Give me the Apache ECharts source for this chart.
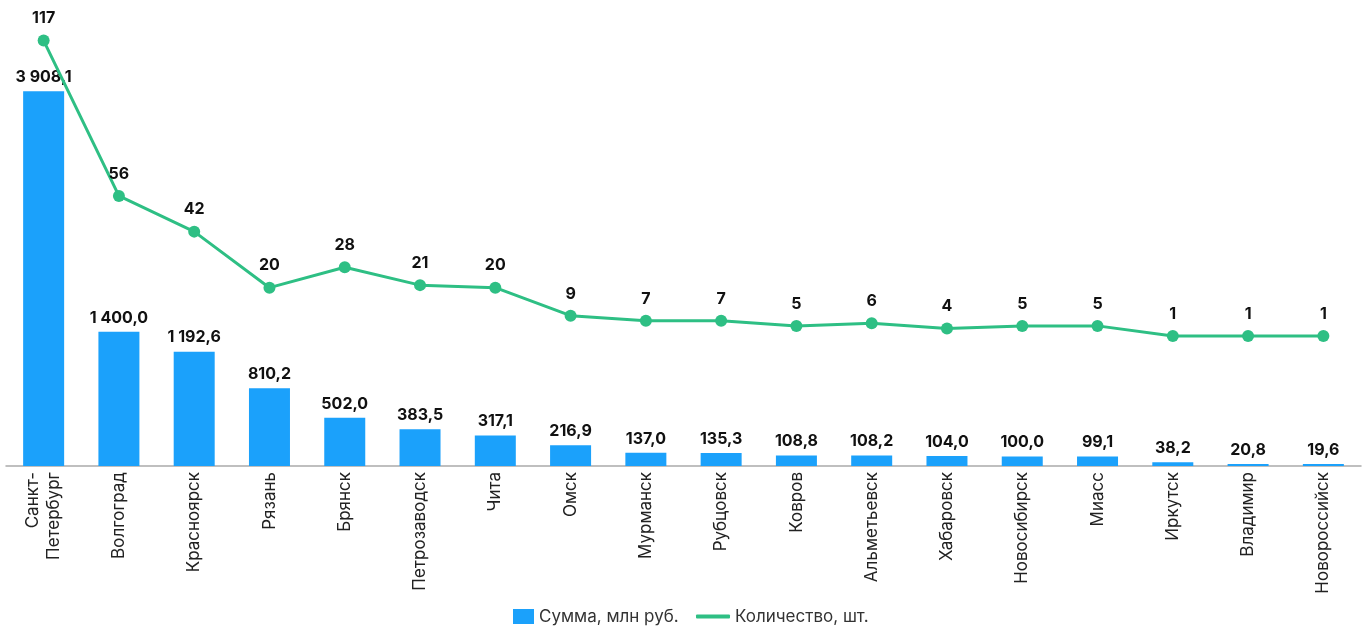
<!DOCTYPE html>
<html>
<head>
<meta charset="utf-8">
<script src="https://cdn.jsdelivr.net/npm/echarts@6/dist/echarts.min.js"></script>
<style>
  html, body { margin: 0; padding: 0; background: #fff; }
  #chart { width: 1369px; height: 632px; }
</style>
</head>
<body>
<div id="chart"></div>
<script>
const cities = [
  'Санкт-\nПетербург', 'Волгоград', 'Красноярск', 'Рязань', 'Брянск',
  'Петрозаводск', 'Чита', 'Омск', 'Мурманск', 'Рубцовск', 'Ковров',
  'Альметьевск', 'Хабаровск', 'Новосибирск', 'Миасс', 'Иркутск',
  'Владимир', 'Новороссийск'
]
const amounts = [
  3908.1, 1400.0, 1192.6, 810.2, 502.0, 383.5, 317.1, 216.9, 137.0,
  135.3, 108.8, 108.2, 104.0, 100.0, 99.1, 38.2, 20.8, 19.6
]
const counts = [117, 56, 42, 20, 28, 21, 20, 9, 7, 7, 5, 6, 4, 5, 5, 1, 1, 1]

const fmtAmount = (v) =>
  v.toFixed(1).replace('.', ',').replace(/\B(?=(\d{3})+(?!\d))/g, ' ')

const fontFamily = 'Inter, "Noto Sans", sans-serif'
const chart = echarts.init(document.getElementById('chart'))

const legendText = { fontSize: 17, color: '#333' }

chart.setOption({
  animation: false,
  textStyle: { fontFamily },
  grid: { left: 6, right: 8, top: 10, bottom: 166 },
  legend: [
    {
      bottom: 2,
      left: 508,
      itemWidth: 21,
      itemHeight: 15,
      itemGap: 10,
      textStyle: legendText,
      data: [{ name: 'Сумма, млн руб.', icon: 'rect' }]
    },
    {
      bottom: 2,
      left: 691,
      itemWidth: 34,
      itemHeight: 4,
      textStyle: legendText,
      data: [{ name: 'Количество, шт.', icon: 'roundRect' }]
    }
  ],
  xAxis: {
    type: 'category',
    data: cities,
    axisTick: { show: false },
    axisLine: { lineStyle: { color: '#aaa', width: 1.5 } },
    axisLabel: {
      rotate: 90,
      interval: 0,
      fontSize: 17,
      color: '#222',
      margin: 6,
      lineHeight: 21
    }
  },
  yAxis: [
    { type: 'value', min: 0, max: 4755, show: false, splitLine: { show: false } },
    { type: 'value', min: -50, max: 129, show: false, splitLine: { show: false } }
  ],
  series: [
    {
      name: 'Сумма, млн руб.',
      type: 'bar',
      data: amounts,
      barWidth: 41,
      itemStyle: { color: '#1ba1fb' },
      label: {
        show: true,
        position: 'top',
        distance: 6,
        fontSize: 16,
        fontWeight: 'bold',
        color: '#111',
        formatter: (p) => fmtAmount(p.value)
      }
    },
    {
      name: 'Количество, шт.',
      type: 'line',
      yAxisIndex: 1,
      data: counts,
      symbol: 'circle',
      symbolSize: 12,
      lineStyle: { color: '#2ebf84', width: 3 },
      itemStyle: { color: '#2ebf84' },
      label: {
        show: true,
        position: 'top',
        distance: 8,
        fontSize: 16,
        fontWeight: 'bold',
        color: '#111'
      }
    }
  ]
})
</script>
</body>
</html>
